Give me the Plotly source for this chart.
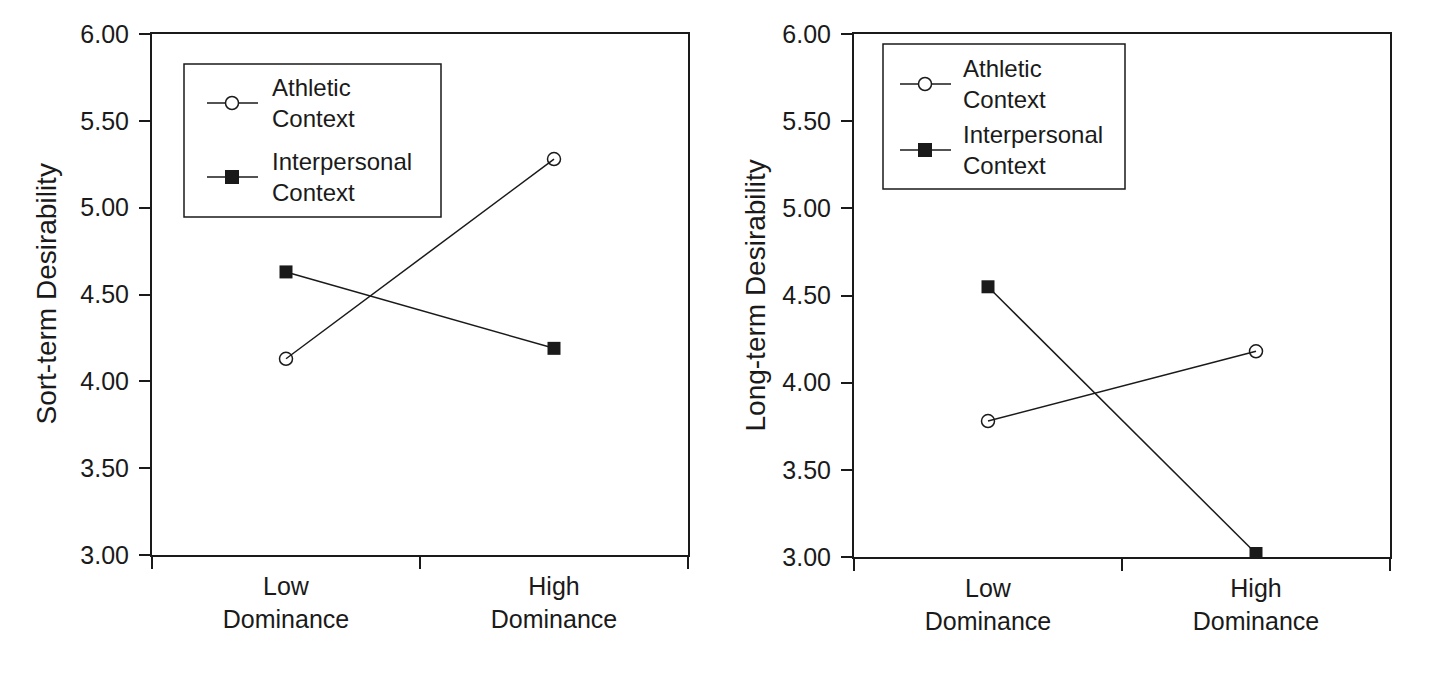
import plotly.graph_objects as go

# data
dominance = ["Low<br>Dominance", "High<br>Dominance"]
y_ticks = [3.0, 3.5, 4.0, 4.5, 5.0, 5.5, 6.0]

short_athletic = [4.13, 5.28]
short_interpersonal = [4.63, 4.19]
long_athletic = [3.78, 4.18]
long_interpersonal = [4.55, 3.02]

legend_labels = ["Athletic<br>Context", "Interpersonal<br>Context"]
y_titles = ["Sort-term Desirability", "Long-term Desirability"]

W, H = 1440, 674
PAGE_PAD = 8  # browser body margin around the plot div
FONT = "Arial, Liberation Sans, sans-serif"
INK = "#1a1a1a"


def px(x):
    return (x - PAGE_PAD) / W


def py(y):
    return 1 - (y - PAGE_PAD) / H


fig = go.Figure()

# left panel: short-term
fig.add_trace(go.Scatter(
    x=dominance, y=short_athletic, mode="lines+markers", xaxis="x", yaxis="y",
    line=dict(color=INK, width=1.5),
    marker=dict(symbol="circle-open", size=13, color=INK, line=dict(width=1.5)),
    showlegend=False))
fig.add_trace(go.Scatter(
    x=dominance, y=short_interpersonal, mode="lines+markers", xaxis="x", yaxis="y",
    line=dict(color=INK, width=1.5),
    marker=dict(symbol="square", size=13, color=INK),
    showlegend=False))

# right panel: long-term
fig.add_trace(go.Scatter(
    x=dominance, y=long_athletic, mode="lines+markers", xaxis="x2", yaxis="y2",
    line=dict(color=INK, width=1.5),
    marker=dict(symbol="circle-open", size=13, color=INK, line=dict(width=1.5)),
    showlegend=False))
fig.add_trace(go.Scatter(
    x=dominance, y=long_interpersonal, mode="lines+markers", xaxis="x2", yaxis="y2",
    line=dict(color=INK, width=1.5),
    marker=dict(symbol="square", size=13, color=INK),
    showlegend=False))

xaxis_style = dict(
    type="category", tickson="boundaries", range=[-0.5, 1.5],
    showline=True, linecolor=INK, linewidth=2, mirror=True,
    ticks="outside", ticklen=12, tickwidth=1.5, tickcolor=INK,
    ticklabelstandoff=8,
    showgrid=False, zeroline=False, fixedrange=True, automargin=False,
    tickfont=dict(family=FONT, size=25, color=INK),
)
yaxis_style = dict(
    range=[3, 6], tickvals=y_ticks, tickformat=".2f",
    showline=True, linecolor=INK, linewidth=2, mirror=True,
    ticks="outside", ticklen=11, tickwidth=1.5, tickcolor=INK,
    ticklabelstandoff=5,
    showgrid=False, zeroline=False, fixedrange=True, automargin=False,
    tickfont=dict(family=FONT, size=25, color=INK),
)

fig.update_layout(
    width=W, height=H,
    margin=dict(l=0, r=0, t=0, b=0),
    paper_bgcolor="white", plot_bgcolor="white",
    xaxis=dict(xaxis_style, domain=[px(152), px(688)], anchor="y"),
    yaxis=dict(yaxis_style, domain=[py(555), py(34)], anchor="x"),
    xaxis2=dict(xaxis_style, domain=[px(854), px(1390)], anchor="y2"),
    yaxis2=dict(yaxis_style, domain=[py(557), py(34)], anchor="x2"),
)

# y axis titles
for xt, yt, txt in [(46, 294.5, y_titles[0]), (755, 295.5, y_titles[1])]:
    fig.add_annotation(text=txt, xref="paper", yref="paper", x=px(xt), y=py(yt),
                       xanchor="center", yanchor="middle", textangle=-90, showarrow=False,
                       font=dict(family=FONT, size=28, color=INK))

# hand-drawn legend boxes, one per panel (box, line sample, marker, label)
legends = [
    dict(box=(184, 64, 441, 217), line=(207, 258), mark=232, text=270, rows=[103, 177]),
    dict(box=(883, 44, 1125, 189), line=(900, 951), mark=925, text=961, rows=[84, 150]),
]
for lg in legends:
    x0, y0, x1, y1 = lg["box"]
    fig.add_shape(type="rect", xref="paper", yref="paper",
                  x0=px(x0), x1=px(x1), y0=py(y0), y1=py(y1),
                  line=dict(color=INK, width=1.5), fillcolor="white")
    for i, yrow in enumerate(lg["rows"]):
        fig.add_shape(type="line", xref="paper", yref="paper",
                      x0=px(lg["line"][0]), x1=px(lg["line"][1]), y0=py(yrow), y1=py(yrow),
                      line=dict(color=INK, width=1.5))
        if i == 0:
            fig.add_shape(type="circle", xref="paper", yref="paper",
                          xsizemode="pixel", ysizemode="pixel",
                          xanchor=px(lg["mark"]), yanchor=py(yrow),
                          x0=-6.5, x1=6.5, y0=-6.5, y1=6.5,
                          line=dict(color=INK, width=1.5), fillcolor="white")
        else:
            fig.add_shape(type="rect", xref="paper", yref="paper",
                          xsizemode="pixel", ysizemode="pixel",
                          xanchor=px(lg["mark"]), yanchor=py(yrow),
                          x0=-7, x1=7, y0=-7, y1=7,
                          line=dict(color=INK, width=0), fillcolor=INK)
        fig.add_annotation(text=legend_labels[i], xref="paper", yref="paper",
                           x=px(lg["text"]), y=py(yrow), xanchor="left", yanchor="middle",
                           align="left", showarrow=False,
                           font=dict(family=FONT, size=24, color=INK))

fig.write_html("out.html")
